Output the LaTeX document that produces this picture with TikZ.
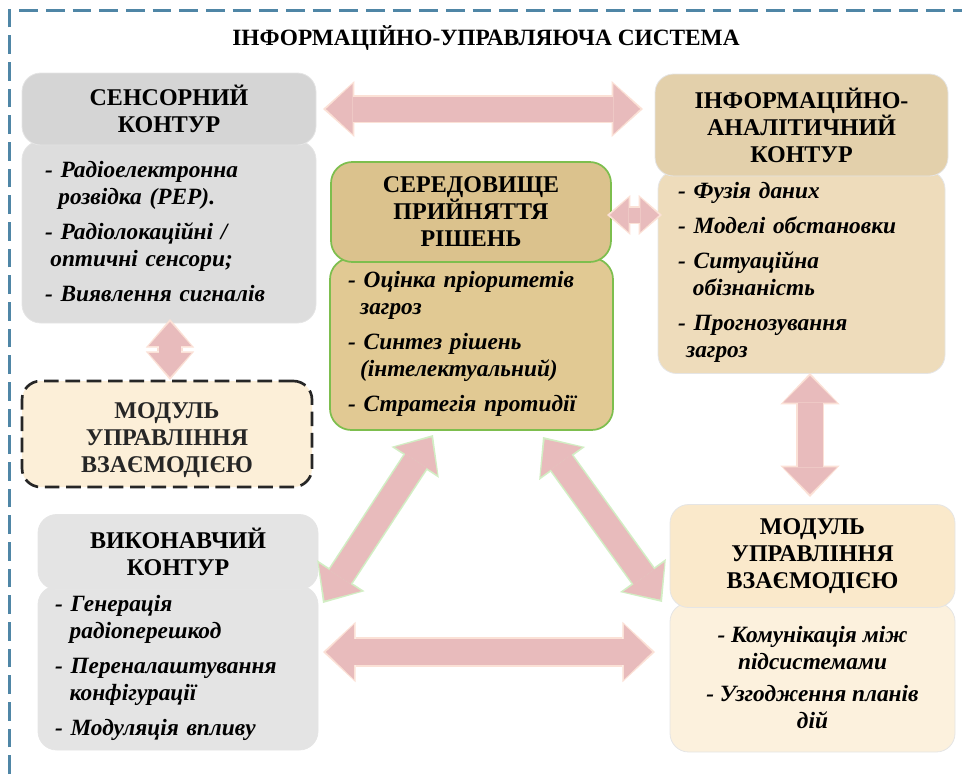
\documentclass[tikz,border=0pt]{standalone}
\usepackage{fontspec}
\setmainfont{Liberation Serif}
\usetikzlibrary{arrows.meta,calc}
\definecolor{framec}{HTML}{4F86A6}
\definecolor{apink}{HTML}{E8BBBC}
\definecolor{apeach}{HTML}{FBE1D6}
\definecolor{agreen}{HTML}{D2EEC4}
\definecolor{sensHc}{HTML}{D5D5D5}
\definecolor{sensBc}{HTML}{DDDDDD}
\definecolor{execc}{HTML}{E4E4E4}
\definecolor{modLc}{HTML}{FCEFD8}
\definecolor{cenHc}{HTML}{DBC28D}
\definecolor{cenBc}{HTML}{E1C993}
\definecolor{cengreen}{HTML}{7DBE4E}
\definecolor{infHc}{HTML}{E3D0AB}
\definecolor{infBc}{HTML}{EEDCBB}
\definecolor{modRHc}{HTML}{FAE9CB}
\definecolor{modRBc}{HTML}{FCF1DD}
\newcommand\blockarrow[6]{%
  \pgfmathsetmacro\bwO{#3+2.4}%
  \pgfmathsetmacro\hwO{#4+4.5}%
  \pgfmathsetmacro\hlO{#5+3.5}%
  \draw[color=#6, line width=\bwO pt,
    {Triangle[width=\hwO pt,length=\hlO pt,line width=0pt]}-{Triangle[width=\hwO pt,length=\hlO pt,line width=0pt]}] (#1) -- (#2);
  \draw[color=apink, line width=#3pt, shorten <=2.2pt, shorten >=2.2pt,
    {Triangle[width=#4pt,length=#5pt,line width=0pt]}-{Triangle[width=#4pt,length=#5pt,line width=0pt]}] (#1) -- (#2);
}
\begin{document}
\begin{tikzpicture}[x=0.75pt,y=-0.75pt,
  hd/.style={font=\fontsize{18}{20.25}\selectfont\bfseries, align=center},
  itm/.style={font=\fontsize{17.5}{20.25}\selectfont\bfseries\itshape},
  panel/.style={rounded corners=14pt, inner sep=0pt, anchor=center},
  soft/.style={draw=black!10, line width=0.6pt},
]
\useasboundingbox (0,0) rectangle (962,774);

% frame
\draw[framec, line width=2pt, dash pattern=on 14pt off 6pt] (9.5,774) -- (9.5,10.5) -- (962,10.5);

% title
\node[font=\fontsize{17.5}{20}\selectfont\bfseries] (title) at (486,38) {ІНФОРМАЦІЙНО-УПРАВЛЯЮЧА СИСТЕМА};

% sensor contour
\node[panel, soft, fill=sensBc, minimum width=220.5pt, minimum height=136.5pt, itm, text width=186pt, align=left] (sensB) at (169,232) {%
-~Радіоелектронна\\
\hspace*{10pt}розвідка~(РЕР).\\[6pt]
-~Радіолокаційні~/\\
\hspace*{4pt}оптичні~сенсори;\\[6pt]
-~Виявлення~сигналів};
\node[panel, soft, fill=sensHc, minimum width=220.5pt, minimum height=54pt, hd] (sensH) at (169,109) {СЕНСОРНИЙ\\КОНТУР};

% interaction module (left, dashed)
\node[panel, draw=black!85, line width=2pt, dash pattern=on 11pt off 5pt, fill=modLc, minimum width=217.5pt, minimum height=79.5pt, hd, text=black!85] (modL) at (167,434) {\raisebox{-8.8pt}[0pt][0pt]{\begin{tabular}{@{}c@{}}МОДУЛЬ\\УПРАВЛІННЯ\\ВЗАЄМОДІЄЮ\end{tabular}}};

% decision environment (centre)
\node[panel, rounded corners=16pt, draw=cengreen, line width=1.3pt, fill=cenBc, minimum width=212.25pt, minimum height=129pt, itm, text width=185pt, align=left] (cenB) at (471.5,344) {%
-~Оцінка~пріоритетів\\
\hspace*{9pt}загроз\\[6pt]
-~Синтез~рішень\\
\hspace*{9pt}(інтелектуальний)\\[6pt]
-~Стратегія~протидії};
\node[panel, rounded corners=16pt, draw=cengreen, line width=1.3pt, fill=cenHc, minimum width=210pt, minimum height=75pt, hd] (cenH) at (471,212) {СЕРЕДОВИЩЕ\\ПРИЙНЯТТЯ\\РІШЕНЬ};

% information-analytic contour
\node[panel, soft, fill=infBc, minimum width=215.25pt, minimum height=152.25pt, itm, text width=185pt, align=left] (infB) at (801.5,272) {%
-~Фузія~даних\\[6pt]
-~Моделі~обстановки\\[6pt]
-~Ситуаційна\\
\hspace*{11pt}обізнаність\\[6pt]
-~Прогнозування\\
\hspace*{6pt}загроз};
\node[panel, soft, fill=infHc, minimum width=219.75pt, minimum height=76.5pt, hd] (infH) at (801.5,125) {ІНФОРМАЦІЙНО-\\АНАЛІТИЧНИЙ\\КОНТУР};

% executive contour
\node[panel, soft, fill=execc, minimum width=210pt, minimum height=123pt, itm, text width=184.5pt, align=left] (exeB) at (178,668) {%
-~Генерація\\
\hspace*{11pt}радіоперешкод\\[6pt]
-~Переналаштування\\
\hspace*{11pt}конфігурації\\[6pt]
-~Модуляція~впливу};
\node[panel, soft, fill=execc, minimum width=210pt, minimum height=56.25pt, hd] (exeH) at (178,552) {ВИКОНАВЧИЙ\\КОНТУР};

% interaction module (right)
\node[panel, soft, fill=modRBc, minimum width=213.75pt, minimum height=111.75pt, itm, align=center] (modRB) at (812.5,677.5) {%
-~Комунікація~між\\
підсистемами\\[4pt]
-~Узгодження~планів\\
дій};
\node[panel, soft, fill=modRHc, minimum width=213.75pt, minimum height=77.25pt, hd] (modRH) at (812.5,556) {МОДУЛЬ\\УПРАВЛІННЯ\\ВЗАЄМОДІЄЮ};

% connector end points
\coordinate (a1s) at (323,109);  \coordinate (a1e) at (643,109);
\coordinate (a2s) at (170,319);  \coordinate (a2e) at (170,380);
\coordinate (a3s) at (607,215);  \coordinate (a3e) at (662,215);
\coordinate (a4s) at (810,373);  \coordinate (a4e) at (810,497);
\coordinate (a5s) at (433,435);  \coordinate (a5e) at (323,603);
\coordinate (a6s) at (543,437);  \coordinate (a6e) at (662,602);
\coordinate (a7s) at (323,652);  \coordinate (a7e) at (655,652);

% block arrows
\blockarrow{a1s}{a1e}{18.75}{37.5}{20}{apeach}
\blockarrow{a2s}{a2e}{17}{32}{18}{apeach}
\blockarrow{a3s}{a3e}{11.25}{25.5}{14}{apeach}
\blockarrow{a4s}{a4e}{18.75}{40}{20}{apeach}
\blockarrow{a5s}{a5e}{19}{38}{21}{agreen}
\blockarrow{a6s}{a6e}{19}{38}{21}{agreen}
\blockarrow{a7s}{a7e}{20}{41}{21}{apeach}
\end{tikzpicture}
\end{document}
